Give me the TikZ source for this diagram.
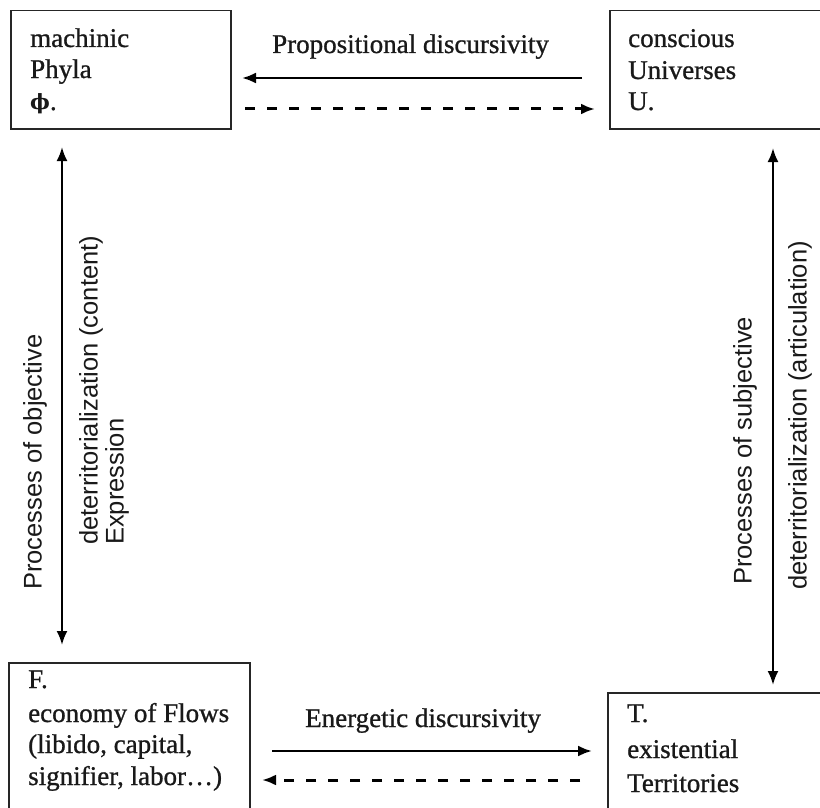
\documentclass[tikz,border=0pt]{standalone}
\usepackage{fontspec}
\setmainfont[FakeBold=0.9]{Liberation Serif}
\newfontfamily\labelsans{Liberation Sans}
\newfontfamily\phifont{DejaVu Serif}
\usetikzlibrary{arrows.meta}
\begin{document}
\begin{tikzpicture}[x=1pt,y=-1pt,
  boxstyle/.style={draw=black!85, line width=1.5pt, rectangle, inner sep=0pt, anchor=north west},
  btext/.style={anchor=base west, inner sep=0pt, text=black!90, font=\fontsize{27}{32}\selectfont},
  vtext/.style={anchor=west, inner sep=0pt, rotate=90, text=black!90, font=\labelsans\fontsize{25.5}{26}\selectfont},
  conn/.style={line width=2.5pt, -{Latex[length=14pt,width=11pt]}},
  dconn/.style={line width=3pt, dash pattern=on 10pt off 12pt, -{Latex[length=14pt,width=11pt]}},
  biconn/.style={line width=2.3pt, {Latex[length=14pt,width=11pt]}-{Latex[length=14pt,width=11pt]}},
]
\fill[white] (0,0) rectangle (820,808);
\useasboundingbox (0,0) rectangle (820,808);
\clip (0,0) rectangle (820,808);

% boxes
\node[boxstyle, minimum width=220pt, minimum height=118pt] (phyla) at (10,10) {};
\node[boxstyle, minimum width=215pt, minimum height=118pt] (univ) at (609,10) {};
\node[boxstyle, minimum width=241pt, minimum height=150pt] (flows) at (8,662) {};
\node[boxstyle, minimum width=217pt, minimum height=120pt] (terr) at (607,692) {};

% box texts
\node[btext] (phyla1) at (30,47) {machinic};
\node[btext] (phyla2) at (30,78) {Phyla};
\node[btext] (phyla3) at (30,110) {{\phifont\bfseries\fontsize{21}{32}\selectfont ϕ}.};

\node[btext] (univ1) at (628,47) {conscious};
\node[btext] (univ2) at (628,79) {Universes};
\node[btext] (univ3) at (628,110) {U.};

\node[btext] (flows1) at (28,688) {F.};
\node[btext] (flows2) at (28,722) {economy of Flows};
\node[btext] (flows3) at (28,753) {(libido, capital,};
\node[btext] (flows4) at (28,785) {signifier, labor\ldots)};

\node[btext] (terr1) at (627,722) {T.};
\node[btext] (terr2) at (627,758) {existential};
\node[btext] (terr3) at (627,792) {Territories};

% horizontal labels
\node[btext] (proplab) at (272,53) {Propositional discursivity};
\node[btext] (energlab) at (305,727) {Energetic discursivity};

% vertical labels
\node[vtext] (objlab1) at (35,590) {Processes of objective};
\node[vtext] (objlab2) at (91,545) {deterritorialization (content)};
\node[vtext] (objlab3) at (117,545) {Expression};
\node[vtext] (subjlab1) at (745,585) {Processes of subjective};
\node[vtext] (subjlab2) at (800,590) {deterritorialization (articulation)};

% connector end points
\coordinate (ts1) at (582,78);
\coordinate (ts2) at (242,78);
\coordinate (td1) at (245,109);
\coordinate (td2) at (595,109);
\coordinate (bs1) at (272,751);
\coordinate (bs2) at (592,751);
\coordinate (bd1) at (580,780);
\coordinate (bd2) at (262,780);
\coordinate (lv1) at (62,147);
\coordinate (lv2) at (62,645);
\coordinate (rv1) at (773,148);
\coordinate (rv2) at (773,685);

% connectors
\draw[conn] (ts1) -- (ts2);
\draw[dconn] (td1) -- (td2);
\draw[conn] (bs1) -- (bs2);
\draw[dconn] (bd1) -- (bd2);
\draw[biconn] (lv1) -- (lv2);
\draw[biconn] (rv1) -- (rv2);
\end{tikzpicture}
\end{document}
